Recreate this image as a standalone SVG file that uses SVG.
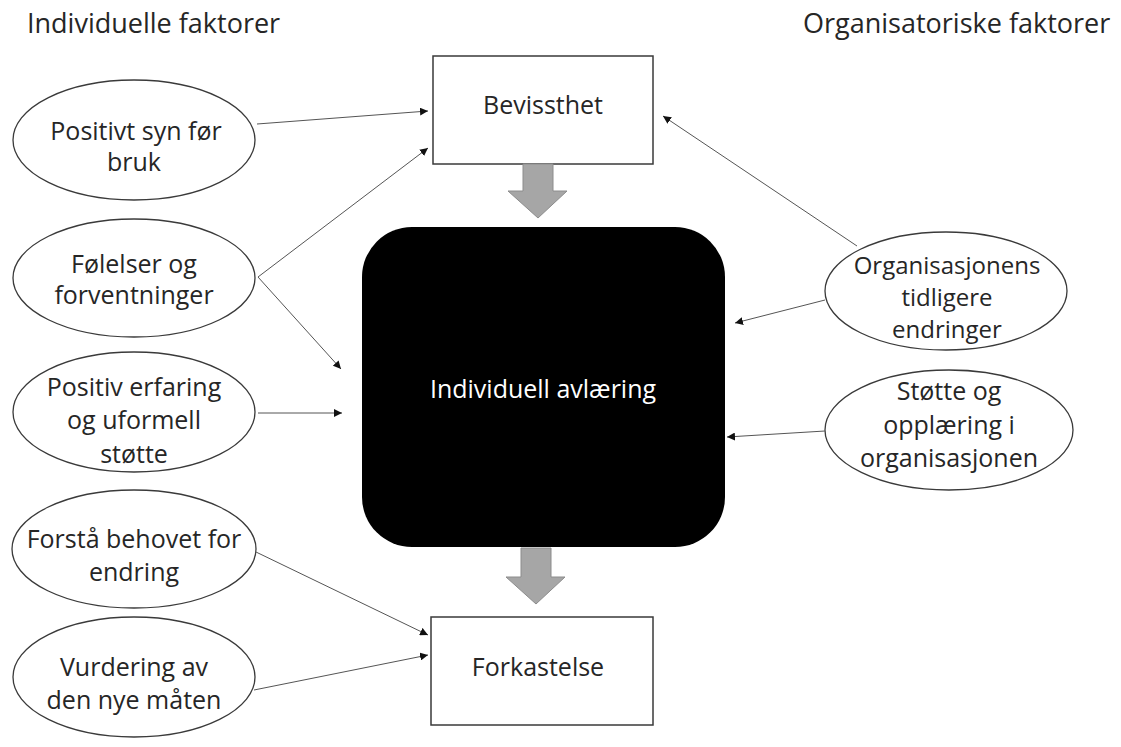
<svg xmlns="http://www.w3.org/2000/svg" width="1121" height="747" viewBox="0 0 1121 747">
<style>
text{font-family:"Open Sans","Noto Sans","Liberation Sans",sans-serif;fill:#262626;text-anchor:middle}
.t{font-size:27px;text-anchor:start}
.n{font-size:25px}
.s{font-size:24px}
.e{fill:#fff;stroke:#3a3a3a;stroke-width:1.3}
.b{fill:#fff;stroke:#3a3a3a;stroke-width:1.5}
.c{stroke:#555;stroke-width:1;fill:none;marker-end:url(#ah)}
.g{fill:#a6a6a6;stroke:#8c8c8c;stroke-width:1}
</style>
<defs>
<marker id="ah" viewBox="0 0 10 10" refX="10" refY="5" markerWidth="8" markerHeight="8" markerUnits="userSpaceOnUse" orient="auto">
<path d="M0,0 L10,5 L0,10 z" fill="#111"/>
</marker>
</defs>
<rect width="1121" height="747" fill="#fff"/>
<text class="t" x="27" y="33">Individuelle faktorer</text>
<text class="t" x="803" y="33">Organisatoriske faktorer</text>

<g id="bevissthet"><rect class="b" x="433" y="56" width="220" height="108"/><text class="n" x="543" y="114">Bevissthet</text></g>
<g id="arrow1"><path class="g" d="M523,164 H553 V191 H567 L538,218 L508,191 H523 Z"/></g>
<g id="avlaering"><rect x="362" y="227" width="363" height="320" rx="50" fill="#000"/><text class="n" x="543" y="398" style="fill:#fff">Individuell avlæring</text></g>
<g id="arrow2"><path class="g" d="M521,548 H551 V577 H565 L536,604 L506,577 H521 Z"/></g>
<g id="forkastelse"><rect class="b" x="431" y="617" width="222" height="108"/><text class="n" x="538" y="676">Forkastelse</text></g>

<g id="e1"><ellipse class="e" cx="134" cy="140" rx="121" ry="60"/><text class="n" x="136" y="140">Positivt syn før</text><text class="n" x="134" y="171">bruk</text></g>
<g id="e2"><ellipse class="e" cx="134" cy="278" rx="121" ry="59"/><text class="n" x="134" y="273">Følelser og</text><text class="n" x="134" y="304">forventninger</text></g>
<g id="e3"><ellipse class="e" cx="134" cy="412" rx="121" ry="60"/><text class="n" x="134" y="396">Positiv erfaring</text><text class="n" x="134" y="429">og uformell</text><text class="n" x="134" y="463">støtte</text></g>
<g id="e4"><ellipse class="e" cx="134" cy="549" rx="122" ry="59"/><text class="n" x="134" y="548">Forstå behovet for</text><text class="n" x="134" y="581">endring</text></g>
<g id="e5"><ellipse class="e" cx="134" cy="677" rx="121" ry="60"/><text class="n" x="134" y="676">Vurdering av</text><text class="n" x="134" y="709">den nye måten</text></g>
<g id="e6"><ellipse class="e" cx="946" cy="291" rx="121" ry="59"/><text class="s" x="947" y="274">Organisasjonens</text><text class="s" x="947" y="306">tidligere</text><text class="s" x="947" y="338">endringer</text></g>
<g id="e7"><ellipse class="e" cx="949" cy="430" rx="124" ry="60"/><text class="n" x="949" y="400">Støtte og</text><text class="n" x="949" y="434">opplæring i</text><text class="n" x="949" y="467">organisasjonen</text></g>

<g id="connectors">
<line class="c" x1="257" y1="124" x2="428" y2="111"/>
<line class="c" x1="258" y1="277" x2="428" y2="148"/>
<line class="c" x1="258" y1="277" x2="341" y2="369"/>
<line class="c" x1="258" y1="413" x2="342" y2="413"/>
<line class="c" x1="857" y1="246" x2="663" y2="116"/>
<line class="c" x1="825" y1="300" x2="735" y2="323"/>
<line class="c" x1="825" y1="431" x2="727" y2="437"/>
<line class="c" x1="256" y1="552" x2="428" y2="635"/>
<line class="c" x1="254" y1="690" x2="428" y2="655"/>
</g>
</svg>
